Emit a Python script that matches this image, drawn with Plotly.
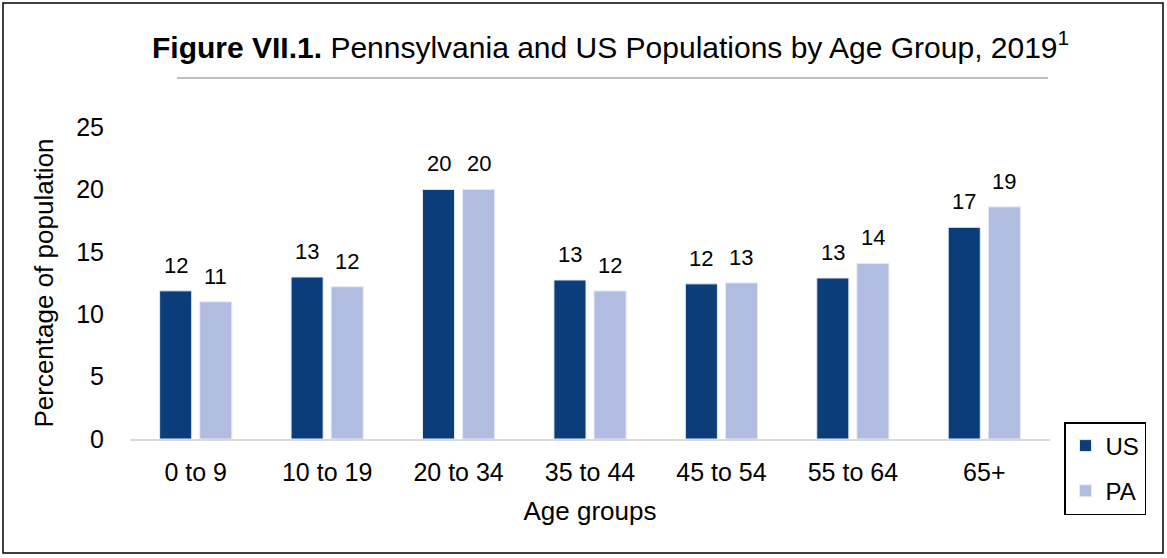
import plotly.graph_objects as go

categories = ["0 to 9", "10 to 19", "20 to 34", "35 to 44", "45 to 54", "55 to 64", "65+"]
us_values = [11.87, 12.98, 20.0, 12.74, 12.43, 12.9, 16.96]
pa_values = [10.99, 12.2, 20.0, 11.86, 12.51, 14.07, 18.6]

US_COLOR = "#0A3D79"
PA_COLOR = "#B0BDE0"
FONT = "Liberation Sans, Arial, sans-serif"

fig = go.Figure()
fig.add_trace(go.Bar(
    x=categories, y=us_values, name="US",
    marker=dict(color=US_COLOR, line=dict(color="#E6EAF5", width=1)),
    legendgroup="us"))
fig.add_trace(go.Bar(
    x=categories, y=pa_values, name="PA",
    marker=dict(color=PA_COLOR, line=dict(color="#E6EAF5", width=1)),
    legendgroup="pa"))

# data labels above each bar
for vals, shift in ((us_values, -20), (pa_values, 20)):
    for c, v in zip(categories, vals):
        fig.add_annotation(x=c, y=v, xref="x", yref="y", text=f"{v:.0f}", showarrow=False,
                           xshift=shift, yshift=11, yanchor="bottom",
                           font=dict(size=22, family=FONT, color="#000000"))

L, R, T, B = 130, 117, 127, 119
W, H = 1167, 558
pw, ph = W - L - R, H - T - B

def px(x):
    return (x - L) / pw

def py(y):
    return (H - B - y) / ph

fig.update_layout(
    width=W, height=H,
    margin=dict(l=L, r=R, t=T, b=B, pad=0),
    paper_bgcolor="white", plot_bgcolor="white",
    font=dict(family=FONT, size=25, color="#000000"),
    barmode="group", bargap=0.39, bargroupgap=0.2,
    xaxis=dict(showgrid=False, showline=True, linecolor="#D9D9D9", linewidth=2, ticks="",
               ticklabelstandoff=10,
               tickfont=dict(size=25), title=dict(text="Age groups", font=dict(size=26), standoff=17)),
    yaxis=dict(range=[0, 25], dtick=5, showgrid=False, showline=False, zeroline=False, ticks="",
               ticklabelstandoff=25,
               tickfont=dict(size=25), title=dict(text="Percentage of population", font=dict(size=26), standoff=15)),
    legend=dict(x=px(1064), y=py(422), xanchor="left", yanchor="top", bordercolor="#000000", borderwidth=1.5,
                font=dict(size=24), tracegroupgap=11, traceorder="grouped", itemwidth=30,
                bgcolor="white"),
    showlegend=True,
)

fig.add_annotation(
    text="<b>Figure VII.1.</b> Pennsylvania and US Populations by Age Group, 2019<sup>1</sup>",
    xref="paper", yref="paper", x=px(610), y=py(45), xanchor="center", yanchor="middle",
    showarrow=False, font=dict(size=30, family=FONT, color="#000000"))

fig.add_shape(type="line", xref="paper", yref="paper", x0=px(177), x1=px(1048), y0=py(78), y1=py(78),
              line=dict(color="#7F7F7F", width=1))
fig.add_shape(type="rect", xref="paper", yref="paper", x0=px(3), x1=px(1163), y0=py(3), y1=py(553),
              line=dict(color="#000000", width=1.5))

fig.write_html("out.html", config={"displayModeBar": False},
               post_script="document.body.style.margin='0';document.body.style.overflow='hidden';")
